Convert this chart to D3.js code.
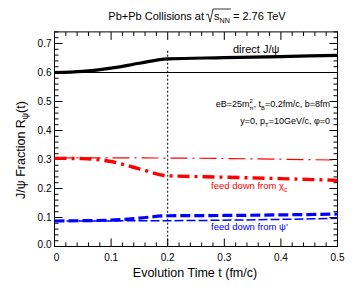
<!DOCTYPE html>
<html><head><meta charset="utf-8">
<script src="https://cdn.jsdelivr.net/npm/d3@7"></script>
<style>body{margin:0;background:#fff}svg{display:block}text{font-family:"Liberation Sans",Arial,sans-serif;white-space:pre}</style>
</head><body><svg id="c" width="363" height="291"></svg>
<script>
const tDirect = [0, 0.05, 0.1, 0.15, 0.2, 0.3, 0.4, 0.5];
const directVals = [0.600, 0.604, 0.615, 0.632, 0.647, 0.651, 0.655, 0.659];
const directRef = [[0, 0.600], [0.5, 0.600]];
const tChi = [0, 0.05, 0.1, 0.15, 0.2, 0.3, 0.4, 0.5];
const chiVals = [0.304, 0.303, 0.293, 0.268, 0.244, 0.239, 0.234, 0.228];
const chiRef = [[0, 0.306], [0.2, 0.305], [0.5, 0.298]];
const tPsi = [0, 0.1, 0.15, 0.2, 0.3, 0.4, 0.5];
const psiVals = [0.088, 0.091, 0.098, 0.106, 0.107, 0.109, 0.112];
const psiRef = [[0, 0.088], [0.2, 0.089], [0.5, 0.097]];
const xTicks = [0, 0.1, 0.2, 0.3, 0.4, 0.5];
const yTicks = [0, 0.1, 0.2, 0.3, 0.4, 0.5, 0.6, 0.7];

const svg = d3.select("#c");
const L = 54.5, R = 337.5, B = 246.5;
const x = d3.scaleLinear().domain([0, 0.5]).range([L, R]);
const y = d3.scaleLinear().domain([0, 0.74]).range([B, B - 0.74 * 290]);
const TOP = y(0.74);

svg.append("rect").attr("x", L).attr("y", TOP).attr("width", R - L).attr("height", B - TOP)
  .attr("fill", "none").attr("stroke", "#000").attr("stroke-width", 1);

const minorX = d3.range(0, 0.5001, 0.02);
const minorY = d3.range(0, 0.7401, 0.02);
const g = svg.append("g").attr("stroke", "#000").attr("stroke-width", 1);
minorX.forEach(v => {
  const major = xTicks.some(t => Math.abs(t - v) < 1e-6);
  const len = major ? 8 : 4;
  g.append("line").attr("x1", x(v)).attr("x2", x(v)).attr("y1", B).attr("y2", B - len);
  g.append("line").attr("x1", x(v)).attr("x2", x(v)).attr("y1", TOP).attr("y2", TOP + len);
});
minorY.forEach(v => {
  const major = yTicks.some(t => Math.abs(t - v) < 1e-6);
  const len = major ? 8 : 4;
  g.append("line").attr("y1", y(v)).attr("y2", y(v)).attr("x1", L).attr("x2", L + len);
  g.append("line").attr("y1", y(v)).attr("y2", y(v)).attr("x1", R).attr("x2", R - len);
});

svg.append("g").selectAll("text").data(xTicks).join("text")
  .attr("x", d => x(d) + (d === 0 ? 2 : 0)).attr("y", B + 14).attr("text-anchor", "middle")
  .attr("font-size", 10).text(d => d === 0 ? "0" : d3.format(".1f")(d));
svg.append("g").selectAll("text").data(yTicks).join("text")
  .attr("x", L - 3).attr("y", d => y(d) + 3.5 - (d === 0 ? 2 : 0)).attr("text-anchor", "end")
  .attr("font-size", 10).text(d => d3.format(".1f")(d));

svg.append("line").attr("x1", x(0.2)).attr("x2", x(0.2)).attr("y1", y(0.675)).attr("y2", B)
  .attr("stroke", "#000").attr("stroke-width", 1).attr("stroke-dasharray", "2,2");

const line = d3.line().x(d => x(d[0])).y(d => y(d[1])).curve(d3.curveMonotoneX);
const path = (data, color, w, dash) => svg.append("path").datum(data).attr("d", line)
  .attr("fill", "none").attr("stroke", color).attr("stroke-width", w)
  .attr("stroke-dasharray", dash || null);

path(directRef, "#000", 1.2);
path(tDirect.map((t, i) => [t, directVals[i]]), "#000", 3.2);
path(chiRef, "#f00", 1.2, "17,5,2,5");
path(tChi.map((t, i) => [t, chiVals[i]]), "#f00", 3.4, "12,5,3,5");
path(psiRef, "#00f", 1.5, "9,3");
path(tPsi.map((t, i) => [t, psiVals[i]]), "#00f", 3.2, "10,4");

function rich(x0, y0, size, color, segs, anchor) {
  const grp = svg.append("g");
  let cx = 0, prevX = 0;
  segs.forEach(sg => {
    const fs = size * (sg.s || 1);
    if (sg.gap) cx += sg.gap;
    const px = sg.back ? prevX : cx;
    const el = grp.append("text").attr("x", px).attr("y", sg.dy || 0)
      .attr("font-size", fs).attr("fill", color).text(sg.t);
    const w = el.node().getComputedTextLength();
    prevX = px;
    cx = Math.max(cx, px + w);
    sg.el = el; sg.x = px; sg.w = w;
  });
  const total = cx;
  const off = anchor === "end" ? -total : anchor === "middle" ? -total / 2 : 0;
  grp.attr("transform", `translate(${x0 + off},${y0})`);
  return {grp, segs, total};
}

const title = rich(197, 20, 11, "#000", [
  {t: "Pb+Pb Collisions at"},
  {t: "s", gap: 10},
  {t: "NN", s: 0.65, dy: 2.5},
  {t: " = 2.76 TeV"}
], "middle");
{
  const sx = title.segs[1].x, ex = title.segs[2].x + title.segs[2].w + 1;
  title.grp.append("path").attr("d", `M${sx-8},-5 L${sx-6},-6 L${sx-4},2 L${sx-1},-11 L${ex},-11`)
    .attr("fill", "none").attr("stroke", "#000").attr("stroke-width", 0.8);
}

rich(233, 53, 11, "#000", [{t: "direct J/ψ"}]);
rich(330, 107, 9, "#000", [
  {t: "eB=25m"}, {t: "2", s: 0.65, dy: -4}, {t: "π", s: 0.65, dy: 3, back: true},
  {t: ", t"}, {t: "B", s: 0.65, dy: 3}, {t: "=0.2fm/c, b=8fm"}
], "end");
rich(330, 124, 9, "#000", [
  {t: "y=0, p"}, {t: "T", s: 0.65, dy: 3}, {t: "=10GeV/c, φ=0"}
], "end");
rich(211, 189, 9.5, "#f00", [{t: "feed down from χ"}, {t: "c", s: 0.7, dy: 3}]);
rich(211, 230, 9.5, "#00f", [{t: "feed down from ψ'"}]);

svg.append("text").attr("x", 195).attr("y", 277).attr("font-size", 12.5).attr("text-anchor", "middle")
  .text("Evolution Time t (fm/c)");
const yl = rich(0, 0, 12.5, "#000", [{t: "J/ψ Fraction R"}, {t: "ψ", s: 0.7, dy: 3}, {t: "(t)"}]);
yl.grp.attr("transform", `translate(25,${150 + yl.total / 2}) rotate(-90)`);
</script></body></html>
